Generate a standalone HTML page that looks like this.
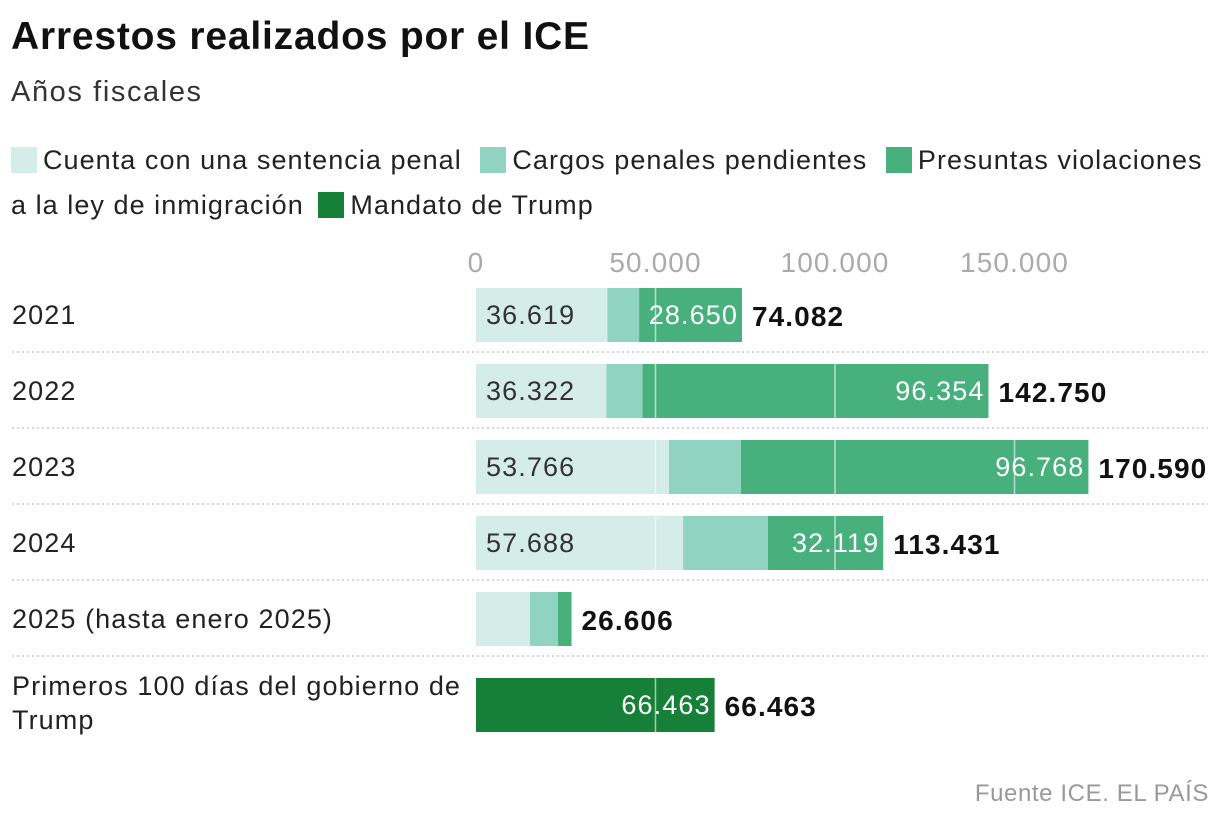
<!DOCTYPE html>
<html><head><meta charset="utf-8">
<style>
body{margin:0;background:#fff;width:1220px;height:824px;overflow:hidden;font-family:"Liberation Sans",sans-serif;color:#111}
.t{position:absolute;white-space:nowrap}
.sw{display:inline-block;width:26px;height:26px;vertical-align:-4px;margin-right:6px}
svg text{letter-spacing:1.1px}
</style></head><body>
<div class="t" style="left:11px;top:15px;font-size:39px;font-weight:bold;letter-spacing:0.8px">Arrestos realizados por el ICE</div>
<div class="t" style="left:11px;top:76px;font-size:29px;color:#333;letter-spacing:1.6px">Años fiscales</div>
<div class="t" style="left:11px;top:138px;font-size:27px;color:#222;line-height:45px;letter-spacing:1.05px">
<span><span class="sw" style="background:#d5ede9"></span>Cuenta con una sentencia penal</span>
<span style="margin-left:10px"><span class="sw" style="background:#8fd3c0"></span>Cargos penales pendientes</span>
<span style="margin-left:10px"><span class="sw" style="background:#47b07c"></span>Presuntas violaciones</span><br>
a la ley de inmigración <span style="margin-left:6px"><span class="sw" style="background:#168038"></span>Mandato de Trump</span>
</div>
<svg id="chart" width="1220" height="824" style="position:absolute;left:0;top:0" font-family="Liberation Sans, sans-serif"></svg>
<div class="t" style="right:11px;top:780px;font-size:24px;color:#999;letter-spacing:0.6px">Fuente ICE. EL PAÍS</div>
<script>
const categories=["2021","2022","2023","2024","2025 (hasta enero 2025)","Primeros 100 días del gobierno de|Trump"];
const criminal=[36619,36322,53766,57688,15000,0];
const pending=[8813,10074,20056,23624,7800,0];
const violations=[28650,96354,96768,32119,3806,0];
const trump=[0,0,0,0,0,66463];
const totals=["74.082","142.750","170.590","113.431","26.606","66.463"];
const segLabels=[["36.619","","28.650"],["36.322","","96.354"],["53.766","","96.768"],["57.688","","32.119"],["","",""],["","","66.463"]];
const ticks=[0,50000,100000,150000];
const tickLabels=["0","50.000","100.000","150.000"];
const svg=document.getElementById('chart');const NS="http://www.w3.org/2000/svg";
const x=v=>476+v*179.5/50000;
const rowTop=i=>i<5?288+i*76:678;
function el(t,a,p){const e=document.createElementNS(NS,t);for(const k in a)e.setAttribute(k,a[k]);(p||svg).appendChild(e);return e;}
ticks.forEach((t,i)=>{const e=el('text',{x:x(t),y:272,'text-anchor':'middle','font-size':28,fill:'#aaa'});e.textContent=tickLabels[i];

});
const cols=["#d5ede9","#8fd3c0","#47b07c","#168038"];
categories.forEach((c,i)=>{
 const y=rowTop(i),h=54;
 const lines=c.split('|');
 lines.forEach((l,j)=>{const e=el('text',{x:12,y:(lines.length>1?y+17:y+36)+j*34,'font-size':27,fill:'#222'});e.textContent=l;
 
 });
 const vals=[criminal[i],pending[i],violations[i],trump[i]];let acc=0;
 vals.forEach((v,k)=>{if(!v)return;const r=el('rect',{x:x(acc),y:y,width:x(acc+v)-x(acc),height:h,fill:cols[k]});
 
 
 const lab=k<3?segLabels[i][k]:segLabels[i][2];
 if(lab){const t=el('text',{x:k===0?x(acc)+10:x(acc+v)-4,y:y+36,'font-size':27,fill:k===0?'#333':'#fff','text-anchor':k===0?'start':'end'});t.textContent=lab;
 
 }
 acc+=v;});
 ticks.slice(1).forEach(t=>{if(x(t)<x(acc))el('line',{x1:x(t),x2:x(t),y1:y,y2:y+h,stroke:'#ffffff',"stroke-opacity":0.6,'stroke-width':1.5});});
 const tt=el('text',{x:x(acc)+10,y:y+38,'font-size':28,'font-weight':'bold',fill:'#111'});tt.textContent=totals[i];
 
 
 if(i<5){const ln=el('line',{x1:12,x2:1208,y1:y+64,y2:y+64,stroke:'#c8c8c8','stroke-width':1.5,'stroke-dasharray':'2 3'});
 
 }
});
</script>
</body></html>
